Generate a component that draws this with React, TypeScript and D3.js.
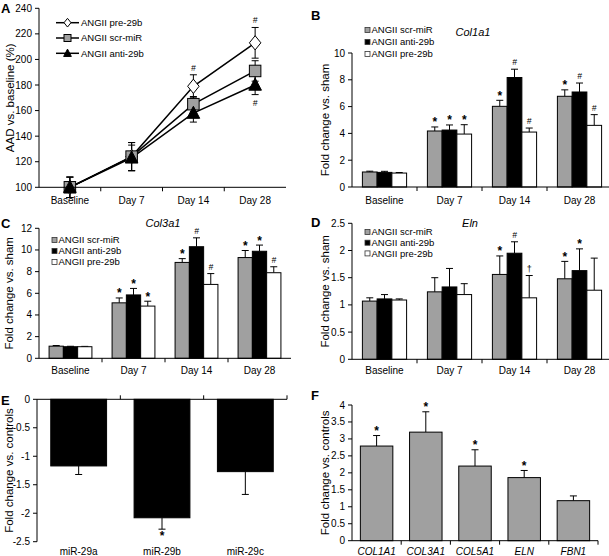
import React from "react";
import * as d3 from "d3";

// ---------- DATA ----------
const days = ["Baseline", "Day 7", "Day 14", "Day 28"];
const groupNames = ["ANGII scr-miR", "ANGII anti-29b", "ANGII pre-29b"];

// Panel A (AAD vs baseline %)
const aNames = ["ANGII pre-29b", "ANGII scr-miR", "ANGII anti-29b"];
const aPre = [100, 124, 179, 213];
const aPreErr = [8, 11, 9, 12];
const aScr = [100, 124, 165, 191];
const aScrErr = [8, 11, 6, 8];
const aAnti = [100, 123, 158, 180];
const aAntiErr = [8, 10, 7, 7.5];
const aPreMarks = ["", "", "#", "#"];
const aAntiMarks = ["", "", "", "#"];
const aTicks = [100, 120, 140, 160, 180, 200, 220, 240];

// Panel B (Col1a1)
const bScr = [1.12, 4.18, 6.02, 6.77];
const bScrErr = [0.06, 0.3, 0.45, 0.48];
const bAnti = [1.09, 4.25, 8.17, 7.09];
const bAntiErr = [0.08, 0.38, 0.62, 0.67];
const bPre = [1.04, 3.95, 4.1, 4.6];
const bPreErr = [0.04, 0.7, 0.3, 0.8];
const bScrMarks = ["", "*", "*", "*"];
const bAntiMarks = ["", "*", "#", "#"];
const bPreMarks = ["", "*", "#", "#"];
const bTicks = [0, 2, 4, 6, 8, 10];

// Panel C (Col3a1)
const cScr = [1.12, 5.12, 8.85, 9.3];
const cScrErr = [0.06, 0.45, 0.35, 0.65];
const cAnti = [1.07, 5.85, 10.3, 9.88];
const cAntiErr = [0.04, 0.6, 0.82, 0.57];
const cPre = [1.07, 4.82, 6.82, 7.9];
const cPreErr = [0.03, 0.45, 1.0, 0.55];
const cScrMarks = ["", "*", "*", "*"];
const cAntiMarks = ["", "*", "#", "*"];
const cPreMarks = ["", "*", "#", "#"];
const cTicks = [0, 2, 4, 6, 8, 10, 12];

// Panel D (Eln)
const dScr = [1.07, 1.24, 1.56, 1.48];
const dScrErr = [0.06, 0.26, 0.34, 0.32];
const dAnti = [1.11, 1.33, 1.95, 1.63];
const dAntiErr = [0.08, 0.34, 0.21, 0.4];
const dPre = [1.09, 1.19, 1.13, 1.27];
const dPreErr = [0.02, 0.2, 0.41, 0.59];
const dScrMarks = ["", "", "*", "*"];
const dAntiMarks = ["", "", "#", "*"];
const dPreMarks = ["", "", "\u2020", ""];
const dTicks = [0, 0.5, 1, 1.5, 2, 2.5];

// Panel E (miR-29 in human)
const eCats = ["miR-29a", "miR-29b", "miR-29c"];
const eVals = [-1.17, -2.08, -1.27];
const eErrs = [0.15, 0.2, 0.4];
const eMarks = ["", "*", ""];
const eTicks = [0, -0.5, -1, -1.5, -2, -2.5];

// Panel F (human ECM genes)
const fCats = ["COL1A1", "COL3A1", "COL5A1", "ELN", "FBN1"];
const fVals = [2.79, 3.2, 2.2, 1.86, 1.18];
const fErrs = [0.31, 0.6, 0.48, 0.21, 0.14];
const fMarks = ["*", "*", "*", "*", ""];
const fTicks = [0, 0.5, 1, 1.5, 2, 2.5, 3, 3.5, 4];

// ---------- STYLE ----------
const FONT = "'Liberation Sans', Arial, Helvetica, sans-serif";
const GRAY = "#a0a0a0";
const groupFills = [GRAY, "#000000", "#ffffff"];
const TICK_FS = 10;
const TITLE_FS = 11.5;
const LEG_FS = 9.5;

function fmt(v: number) {
  return String(v);
}

function Mark({ x, y, s, below }: { x: number; y: number; s: string; below?: boolean }) {
  if (!s) return null;
  if (s === "*") {
    return (
      <text x={x} y={below ? y + 11 : y - 0.5} textAnchor="middle" fontSize={12} fontFamily={FONT} fontWeight="bold">
        *
      </text>
    );
  }
  if (s === "#") {
    return (
      <text x={x} y={below ? y + 11 : y - 4} textAnchor="middle" fontSize={8.5} fontFamily={FONT} fontStyle="italic">
        #
      </text>
    );
  }
  return (
    <text x={x} y={y - 4} textAnchor="middle" fontSize={9} fontFamily={FONT}>
      {s}
    </text>
  );
}

function YAxis({ x0, y, ticks, title, titleX }: { x0: number; y: d3.ScaleLinear<number, number>; ticks: number[]; title: string; titleX: number }) {
  const r = y.range();
  const cy = (r[0] + r[1]) / 2;
  return (
    <g>
      <line x1={x0} x2={x0} y1={d3.min(r)!} y2={d3.max(r)!} stroke="#000" strokeWidth={1} />
      {ticks.map((t) => (
        <g key={t}>
          <line x1={x0 - 4} x2={x0} y1={y(t)} y2={y(t)} stroke="#000" strokeWidth={1} />
          <text x={x0 - 7} y={y(t)} dy="0.35em" textAnchor="end" fontSize={TICK_FS} fontFamily={FONT}>
            {fmt(t)}
          </text>
        </g>
      ))}
      <text
        transform={`translate(${titleX},${cy}) rotate(-90)`}
        textAnchor="middle"
        dy="0.35em"
        fontSize={TITLE_FS}
        fontFamily={FONT}
      >
        {title}
      </text>
    </g>
  );
}

type Series = { vals: number[]; errs: number[]; marks: string[] };

function GroupedBarPanel(p: {
  x0: number;
  x1: number;
  yZero: number;
  yTopPx: number;
  yMax: number;
  ticks: number[];
  series: Series[];
  title: string;
  titlePos: [number, number];
  legend: [number, number, number];
  letter: string;
  letterPos: [number, number];
  labelY: number;
  titleX: number;
}) {
  const x = d3.scaleBand<string>().domain(days).range([p.x0, p.x1]);
  const bw = x.bandwidth();
  const groupW = bw * 0.68;
  const inner = d3.scaleBand<string>().domain(groupNames).range([0, groupW]);
  const y = d3.scaleLinear().domain([0, p.yMax]).range([p.yZero, p.yTopPx]);
  return (
    <g>
      {p.series.map((s, gi) =>
        days.map((d, i) => {
          const bx = x(d)! + (bw - groupW) / 2 + inner(groupNames[gi])!;
          const w = inner.bandwidth();
          const cx = bx + w / 2;
          const top = y(s.vals[i] + s.errs[i]);
          return (
            <g key={`${gi}-${i}`}>
              <line x1={cx} x2={cx} y1={y(s.vals[i])} y2={top} stroke="#000" strokeWidth={1} />
              <line x1={cx - 3.5} x2={cx + 3.5} y1={top} y2={top} stroke="#000" strokeWidth={1} />
              <rect x={bx} y={y(s.vals[i])} width={w} height={y(0) - y(s.vals[i])} fill={groupFills[gi]} stroke="#000" strokeWidth={1} />
              <Mark x={cx} y={top} s={s.marks[i]} />
            </g>
          );
        })
      )}
      <YAxis x0={p.x0} y={y} ticks={p.ticks} title="Fold change vs. sham" titleX={p.titleX} />
      <line x1={p.x0} x2={p.x1} y1={p.yZero} y2={p.yZero} stroke="#000" strokeWidth={1} />
      {days.map((d, i) => (
        <g key={d}>
          {i > 0 && <line x1={x(d)!} x2={x(d)!} y1={p.yZero} y2={p.yZero + 4} stroke="#000" />}
          <text x={x(d)! + bw / 2} y={p.labelY} textAnchor="middle" fontSize={TICK_FS} fontFamily={FONT}>
            {d}
          </text>
        </g>
      ))}
      <text x={p.titlePos[0]} y={p.titlePos[1]} textAnchor="middle" fontSize={11} fontStyle="italic" fontFamily={FONT}>
        {p.title}
      </text>
      {groupNames.map((g, gi) => (
        <g key={g}>
          <rect x={p.legend[0]} y={p.legend[1] + gi * p.legend[2] - 2.5} width={5} height={5} fill={groupFills[gi]} stroke="#333" strokeWidth={0.8} />
          <text x={p.legend[0] + 6.5} y={p.legend[1] + gi * p.legend[2]} dy="0.35em" fontSize={LEG_FS} fontFamily={FONT}>
            {g}
          </text>
        </g>
      ))}
      <text x={p.letterPos[0]} y={p.letterPos[1]} fontSize={13} fontWeight="bold" fontFamily={FONT}>
        {p.letter}
      </text>
    </g>
  );
}

function PanelA() {
  const x0 = 39,
    x1 = 286;
  const xb = d3.scaleBand<string>().domain(days).range([x0, x1]);
  const x = d3.scalePoint<string>().domain(days).range([x0, x1]).padding(0.5);
  const y = d3.scaleLinear().domain([100, 240]).range([187.3, 8.3]);
  const all = [
    { name: aNames[0], vals: aPre, errs: aPreErr, marker: "diamond" },
    { name: aNames[1], vals: aScr, errs: aScrErr, marker: "square" },
    { name: aNames[2], vals: aAnti, errs: aAntiErr, marker: "triangle" },
  ];
  const line = d3
    .line<number>()
    .x((_, i) => x(days[i])!)
    .y((v) => y(v));
  const marker = (m: string, cx: number, cy: number, s: number, key?: string) => {
    if (m === "diamond")
      return <path key={key} d={`M${cx},${cy - s * 0.62}L${cx + s * 0.5},${cy}L${cx},${cy + s * 0.62}L${cx - s * 0.5},${cy}Z`} fill="#fff" stroke="#000" strokeWidth={1} />;
    if (m === "square") return <rect key={key} x={cx - s / 2} y={cy - s / 2} width={s} height={s} fill={GRAY} stroke="#000" strokeWidth={1} />;
    return <path key={key} d={`M${cx},${cy - s * 0.6}L${cx + s * 0.55},${cy + s * 0.45}L${cx - s * 0.55},${cy + s * 0.45}Z`} fill="#000" stroke="#000" strokeWidth={1} />;
  };
  return (
    <g>
      {all.map((s) => (
        <path key={s.name} d={line(s.vals)!} fill="none" stroke="#000" strokeWidth={1.5} />
      ))}
      {all.map((s) =>
        s.vals.map((v, i) => {
          const cx = x(days[i])!;
          return (
            <g key={`${s.name}-e${i}`}>
              <line x1={cx} x2={cx} y1={y(v - s.errs[i])} y2={y(v + s.errs[i])} stroke="#000" strokeWidth={1} />
              <line x1={cx - 3.5} x2={cx + 3.5} y1={y(v + s.errs[i])} y2={y(v + s.errs[i])} stroke="#000" strokeWidth={1} />
              <line x1={cx - 3.5} x2={cx + 3.5} y1={y(v - s.errs[i])} y2={y(v - s.errs[i])} stroke="#000" strokeWidth={1} />
            </g>
          );
        })
      )}
      {all.map((s) => s.vals.map((v, i) => marker(s.marker, x(days[i])!, y(v), 11.5, `${s.name}-m${i}`)))}
      {aPreMarks.map((m, i) => (
        <Mark key={`ap${i}`} x={x(days[i])!} y={y(aPre[i] + aPreErr[i])} s={m} />
      ))}
      {aAntiMarks.map((m, i) => (
        <Mark key={`aa${i}`} x={x(days[i])!} y={y(aAnti[i] - aAntiErr[i])} s={m} below />
      ))}
      <YAxis x0={x0} y={y} ticks={aTicks} title="AAD vs. baseline (%)" titleX={10} />
      <line x1={x0} x2={x1} y1={187.3} y2={187.3} stroke="#000" />
      {days.map((d, i) => (
        <g key={d}>
          {i > 0 && <line x1={xb(d)!} x2={xb(d)!} y1={187.3} y2={191.3} stroke="#000" />}
          <text x={x(d)!} y={204} textAnchor="middle" fontSize={TICK_FS} fontFamily={FONT}>
            {d}
          </text>
        </g>
      ))}
      {all.map((s, i) => {
        const ly = 22.7 + i * 15.3;
        return (
          <g key={`leg${i}`}>
            <line x1={56} x2={79} y1={ly} y2={ly} stroke="#000" strokeWidth={1.5} />
            {marker(s.marker, 67.5, ly, 7)}
            <text x={81} y={ly} dy="0.35em" fontSize={LEG_FS} fontFamily={FONT}>
              {s.name}
            </text>
          </g>
        );
      })}
      <text x={1} y={13} fontSize={13} fontWeight="bold" fontFamily={FONT}>
        A
      </text>
    </g>
  );
}

function PanelE() {
  const x0 = 37,
    x1 = 287;
  const x = d3.scaleBand<string>().domain(eCats).range([x0, x1]).paddingInner(0.33).paddingOuter(0.165);
  const xb = d3.scaleBand<string>().domain(eCats).range([x0, x1]);
  const y = d3.scaleLinear().domain([0, -2.5]).range([399.3, 541.7]);
  return (
    <g>
      {eCats.map((c, i) => {
        const cx = x(c)! + x.bandwidth() / 2;
        const bot = y(eVals[i] - eErrs[i]);
        return (
          <g key={c}>
            <line x1={cx} x2={cx} y1={y(eVals[i])} y2={bot} stroke="#000" />
            <line x1={cx - 3.5} x2={cx + 3.5} y1={bot} y2={bot} stroke="#000" />
            <rect x={x(c)!} y={y(0)} width={x.bandwidth()} height={y(eVals[i]) - y(0)} fill="#000" stroke="#000" />
            <Mark x={cx} y={bot} s={eMarks[i]} below />
            <text x={cx} y={555} textAnchor="middle" fontSize={TICK_FS} fontFamily={FONT}>
              {c}
            </text>
          </g>
        );
      })}
      <YAxis x0={x0} y={y} ticks={eTicks} title="Fold change vs. controls" titleX={9} />
      <line x1={x0} x2={x1} y1={399.3} y2={399.3} stroke="#000" />
      {eCats.map((c, i) => {
        const bx = xb(c)! + xb.bandwidth();
        return <line key={`t${i}`} x1={bx} x2={bx} y1={399.3} y2={395.3} stroke="#000" />;
      })}
      <text x={1} y={405} fontSize={13} fontWeight="bold" fontFamily={FONT}>
        E
      </text>
    </g>
  );
}

function PanelF() {
  const x0 = 352,
    x1 = 598;
  const x = d3.scaleBand<string>().domain(fCats).range([x0, x1]).paddingInner(0.34).paddingOuter(0.17);
  const xb = d3.scaleBand<string>().domain(fCats).range([x0, x1]);
  const y = d3.scaleLinear().domain([0, 4]).range([540.7, 405]);
  return (
    <g>
      {fCats.map((c, i) => {
        const cx = x(c)! + x.bandwidth() / 2;
        const top = y(fVals[i] + fErrs[i]);
        return (
          <g key={c}>
            <line x1={cx} x2={cx} y1={y(fVals[i])} y2={top} stroke="#000" />
            <line x1={cx - 3.5} x2={cx + 3.5} y1={top} y2={top} stroke="#000" />
            <rect x={x(c)!} y={y(fVals[i])} width={x.bandwidth()} height={y(0) - y(fVals[i])} fill={GRAY} stroke="#000" />
            <Mark x={cx} y={top} s={fMarks[i]} />
            <text x={cx} y={555} textAnchor="middle" fontSize={TICK_FS} fontStyle="italic" fontFamily={FONT}>
              {c}
            </text>
          </g>
        );
      })}
      <YAxis x0={x0} y={y} ticks={fTicks} title="Fold change vs. controls" titleX={325} />
      <line x1={x0} x2={x1} y1={540.7} y2={540.7} stroke="#000" />
      {fCats.map((c, i) => {
        const bx = xb(c)! + xb.bandwidth();
        return <line key={`t${i}`} x1={bx} x2={bx} y1={540.7} y2={544.7} stroke="#000" />;
      })}
      <text x={311} y={400} fontSize={13} fontWeight="bold" fontFamily={FONT}>
        F
      </text>
    </g>
  );
}

export default function App() {
  const mk = (v: number[], e: number[], m: string[]): Series => ({ vals: v, errs: e, marks: m });
  return (
    <svg width={609} height={556} style={{ position: "absolute", left: 0, top: 0, background: "#fff" }}>
      <rect width={609} height={556} fill="#fff" />
      <PanelA />
      <GroupedBarPanel
        x0={352}
        x1={612}
        yZero={187}
        yTopPx={53}
        yMax={10}
        ticks={bTicks}
        series={[mk(bScr, bScrErr, bScrMarks), mk(bAnti, bAntiErr, bAntiMarks), mk(bPre, bPreErr, bPreMarks)]}
        title="Col1a1"
        titlePos={[473, 36]}
        legend={[365, 30, 12]}
        letter="B"
        letterPos={[311, 20]}
        labelY={204}
        titleX={325}
      />
      <GroupedBarPanel
        x0={39}
        x1={291}
        yZero={358.3}
        yTopPx={228.3}
        yMax={12}
        ticks={cTicks}
        series={[mk(cScr, cScrErr, cScrMarks), mk(cAnti, cAntiErr, cAntiMarks), mk(cPre, cPreErr, cPreMarks)]}
        title="Col3a1"
        titlePos={[163, 227]}
        legend={[52, 240, 11]}
        letter="C"
        letterPos={[1, 228]}
        labelY={374}
        titleX={9}
      />
      <GroupedBarPanel
        x0={352}
        x1={612}
        yZero={359.3}
        yTopPx={223.3}
        yMax={2.5}
        ticks={dTicks}
        series={[mk(dScr, dScrErr, dScrMarks), mk(dAnti, dAntiErr, dAntiMarks), mk(dPre, dPreErr, dPreMarks)]}
        title="Eln"
        titlePos={[470, 227]}
        legend={[365, 232, 10.7]}
        letter="D"
        letterPos={[311, 227]}
        labelY={374}
        titleX={325}
      />
      <PanelE />
      <PanelF />
    </svg>
  );
}
